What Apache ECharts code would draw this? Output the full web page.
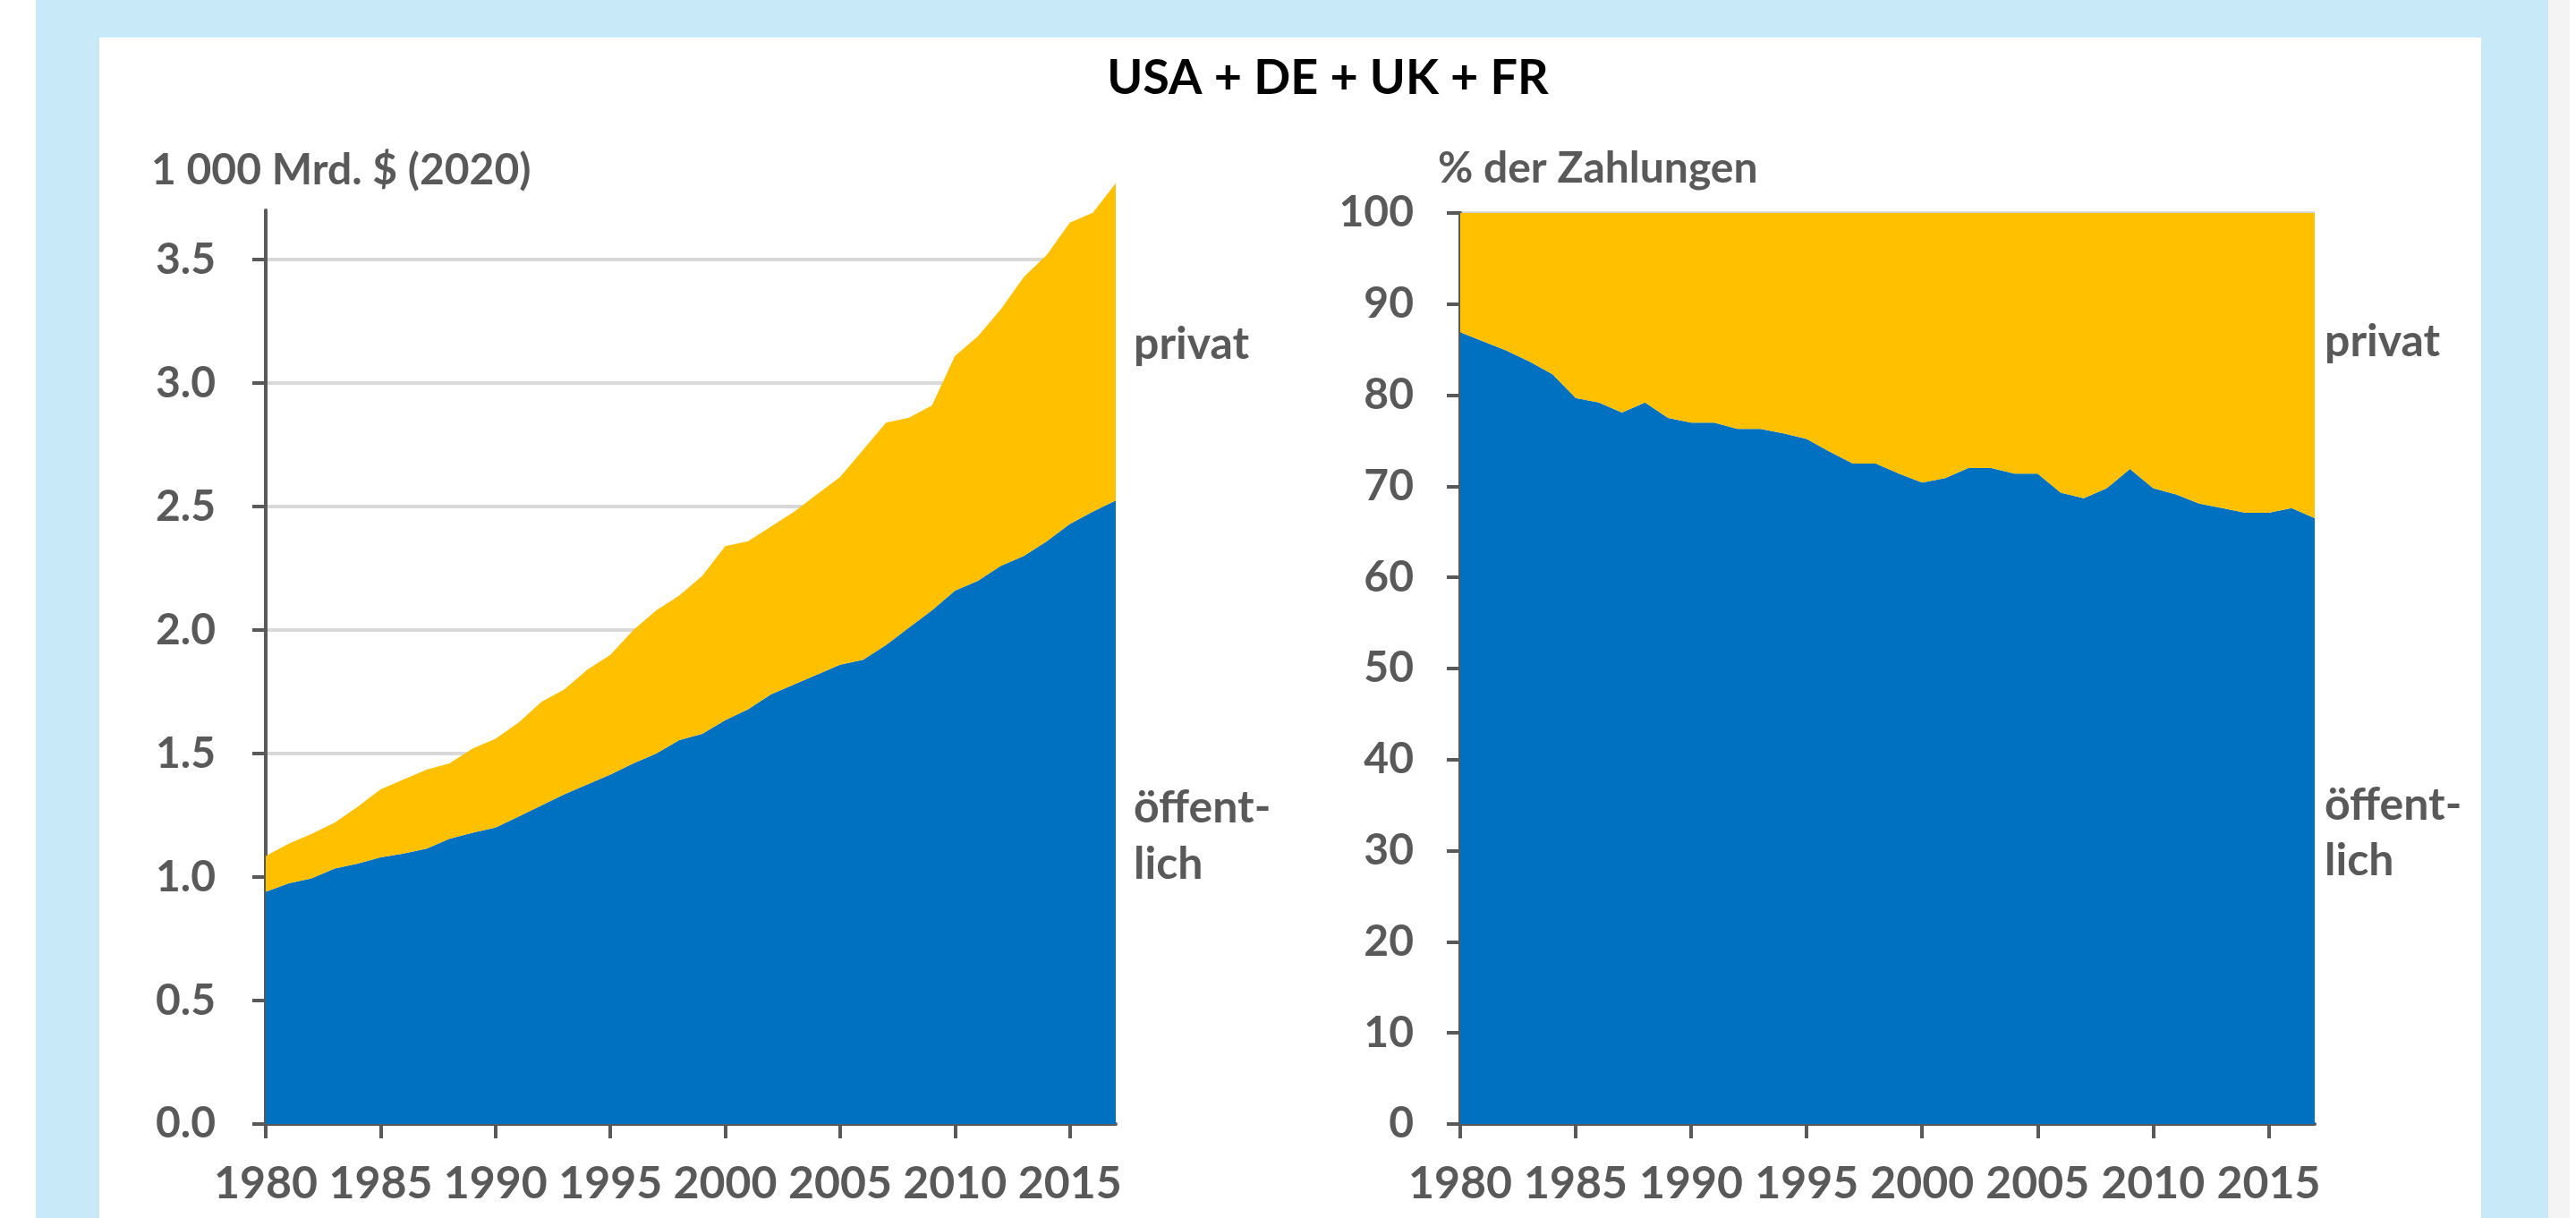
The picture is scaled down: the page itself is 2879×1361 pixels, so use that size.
<!DOCTYPE html>
<html>
<head>
<meta charset="utf-8">
<title>USA + DE + UK + FR</title>
<script src="https://cdn.jsdelivr.net/npm/echarts@6/dist/echarts.min.js"></script>
<style>
	html, body { margin: 0; padding: 0; width: 2879px; height: 1361px; overflow: hidden; background: #fff; }
	#frame { position: absolute; left: 40px; top: 0; width: 2808px; height: 1361px; background: #C8E9F8; }
	#strip { position: absolute; left: 2848px; top: 0; width: 24px; height: 1361px; background: #F4F4F4; }
	#panel { position: absolute; left: 111px; top: 42px; width: 2662px; height: 1319px; background: #fff; }
	#chart { position: absolute; left: 0; top: 0; width: 2879px; height: 1361px; }
</style>
</head>
<body>
<div id="frame"></div>
<div id="strip"></div>
<div id="panel"></div>
<div id="chart"></div>
<script>
	const years = [];
	for (let y = 1980; y <= 2017; y++) years.push(String(y));

	// left: 1 000 Mrd. $ (2020)
	const publicBn = [0.94, 0.975, 0.995, 1.035, 1.055, 1.08, 1.095, 1.115, 1.155, 1.18,
		1.20, 1.245, 1.29, 1.335, 1.375, 1.415, 1.46, 1.50, 1.555, 1.58,
		1.635, 1.68, 1.74, 1.78, 1.82, 1.86, 1.88, 1.94, 2.01, 2.08,
		2.16, 2.20, 2.26, 2.30, 2.36, 2.43, 2.48, 2.525];
	const privateBn = [0.145, 0.16, 0.18, 0.185, 0.23, 0.275, 0.30, 0.32, 0.305, 0.34,
		0.36, 0.38, 0.42, 0.425, 0.465, 0.485, 0.54, 0.58, 0.585, 0.64,
		0.705, 0.68, 0.68, 0.70, 0.73, 0.76, 0.85, 0.90, 0.85, 0.83,
		0.95, 0.99, 1.04, 1.13, 1.16, 1.22, 1.21, 1.285];

	// right: % der Zahlungen
	const publicPct = [86.9, 85.9, 84.9, 83.7, 82.3, 79.7, 79.2, 78.1, 79.2, 77.5,
		77.0, 77.0, 76.3, 76.3, 75.8, 75.2, 73.8, 72.5, 72.5, 71.4,
		70.4, 70.9, 72.0, 72.0, 71.4, 71.4, 69.3, 68.7, 69.8, 71.9,
		69.8, 69.1, 68.1, 67.6, 67.1, 67.1, 67.6, 66.5];
	const privatePct = [13.1, 14.1, 15.1, 16.3, 17.7, 20.3, 20.8, 21.9, 20.8, 22.5,
		23.0, 23.0, 23.7, 23.7, 24.2, 24.8, 26.2, 27.5, 27.5, 28.6,
		29.6, 29.1, 28.0, 28.0, 28.6, 28.6, 30.7, 31.3, 30.2, 28.1,
		30.2, 30.9, 31.9, 32.4, 32.9, 32.9, 32.4, 33.5];

	const leftTicks = [0, 0.5, 1.0, 1.5, 2.0, 2.5, 3.0, 3.5];

	const FONT = 'Lato';
	const GREY = '#595959';
	const BLUE = '#0070C0';
	const YELLOW = '#FFC000';

	const axisLine = { show: true, lineStyle: { color: GREY, width: 4 } };

	function xAxisFor(gridIndex) {
		return {
			type: 'category', gridIndex: gridIndex, data: years, boundaryGap: false,
			axisLine: axisLine,
			axisTick: { show: true, interval: 4, length: 16, lineStyle: { color: GREY, width: 4 } },
			axisLabel: { interval: 4, margin: 42, color: GREY, fontFamily: FONT, fontWeight: 'bold', fontSize: 50 },
			splitLine: { show: false }
		};
	}

	function area(name, data, color, xi) {
		return {
			name: name, type: 'line', stack: 'g' + xi, xAxisIndex: xi, yAxisIndex: xi,
			data: data, showSymbol: false, symbol: 'none', clip: false, silent: true,
			lineStyle: { width: 0 }, areaStyle: { color: color, opacity: 1 }
		};
	}

	// text placed by its left edge and vertical middle
	function label(text, x, y, size, color) {
		return {
			type: 'text', x: x, y: y,
			style: { text: text, fill: color || GREY, font: 'bold ' + (size || 50) + 'px ' + FONT, textVerticalAlign: 'middle' }
		};
	}

	const chart = echarts.init(document.getElementById('chart'), null, { renderer: 'canvas' });

	chart.setOption({
		backgroundColor: 'transparent',
		animation: false,
		grid: [
			{ left: 297, top: 235, width: 950, height: 1021 },
			{ left: 1632, top: 238, width: 955, height: 1018 }
		],
		xAxis: [xAxisFor(0), xAxisFor(1)],
		yAxis: [
			{
				type: 'value', gridIndex: 0, min: 0, max: 3.7,
				axisLine: axisLine,
				axisTick: { show: true, length: 15, customValues: leftTicks, lineStyle: { color: GREY, width: 4 } },
				axisLabel: { margin: 56, customValues: leftTicks, color: GREY, fontFamily: FONT, fontWeight: 'bold', fontSize: 48,
					formatter: v => v.toFixed(1) },
				splitLine: { show: true, lineStyle: { color: '#D9D9D9', width: 4 } }
			},
			{
				type: 'value', gridIndex: 1, min: 0, max: 100, interval: 10,
				axisLine: axisLine,
				axisTick: { show: true, length: 15, lineStyle: { color: GREY, width: 4 } },
				axisLabel: { margin: 52, color: GREY, fontFamily: FONT, fontWeight: 'bold', fontSize: 48 },
				splitLine: { show: true, lineStyle: { color: '#D9D9D9', width: 4 } }
			}
		],
		series: [
			area('öffentlich', publicBn, BLUE, 0),
			area('privat', privateBn, YELLOW, 0),
			area('öffentlich', publicPct, BLUE, 1),
			area('privat', privatePct, YELLOW, 1)
		],
		graphic: [
			{
				type: 'text', x: 1484, y: 88,
				style: { text: 'USA + DE + UK + FR', fill: '#000', font: 'bold 54px ' + FONT, textAlign: 'center', textVerticalAlign: 'middle' }
			},
			label('1 000 Mrd. $ (2020)', 169, 191, 48),
			label('% der Zahlungen', 1607, 189, 48),
			label('privat', 1267, 385),
			label('öffent-', 1267, 903),
			label('lich', 1267, 966),
			label('privat', 2598, 382),
			label('öffent-', 2598, 900),
			label('lich', 2598, 962)
		]
	});

	window.addEventListener('resize', () => chart.resize());
</script>
</body>
</html>
